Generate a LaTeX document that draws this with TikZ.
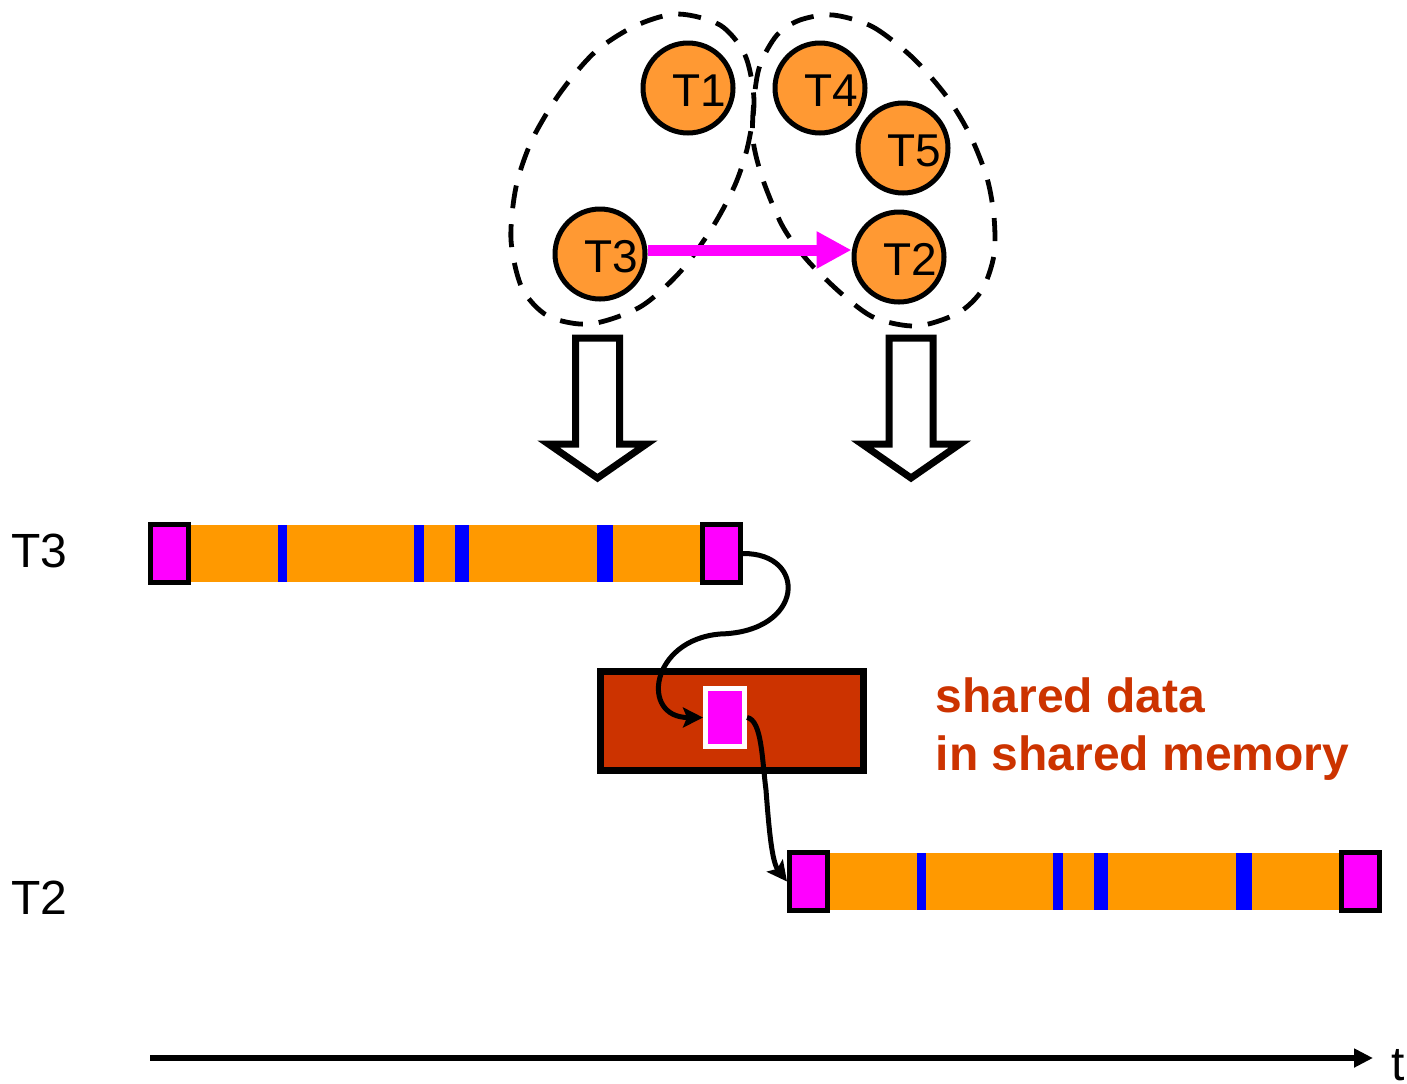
\documentclass[tikz,border=0pt]{standalone}
\usepackage{fontspec}
\setmainfont{Liberation Sans}
\usetikzlibrary{arrows.meta}
\definecolor{threadfill}{HTML}{FF9933}
\definecolor{barorange}{HTML}{FF9900}
\definecolor{stripeblue}{HTML}{0000FF}
\definecolor{memred}{HTML}{CC3300}
\definecolor{hot}{HTML}{FF00FF}
\begin{document}
\begin{tikzpicture}[x=0.5pt,y=-0.5pt,
  thread/.style={circle,draw,line width=2.5pt,fill=threadfill,minimum size=45pt,
    inner sep=0pt,text height=18.5pt,text depth=0pt,font=\fontsize{23}{23}\selectfont},
  endbox/.style={draw,line width=2.5pt,fill=hot,minimum width=19pt,
    minimum height=29pt,inner sep=0pt},
  group/.style={line width=2.4pt,dash pattern=on 11.5pt off 8pt},
  bigarrow/.style={draw,line width=3.5pt,fill=white,miter limit=10},
  flow/.style={line width=2.5pt,-{Stealth[length=10pt,width=10pt,inset=2pt]}},
  lbl/.style={font=\fontsize{24}{24}\selectfont,inner sep=0pt},
  memtext/.style={font=\fontsize{24}{24}\selectfont\bfseries,text=memred,inner sep=0pt},
  timebar/.pic={
    \fill[barorange] (0,-28.5) rectangle (552,28.5);
    \foreach \a/\b in {108.5/117.5,244.5/254.5,285.5/299.5,427.5/443.5}
      \fill[stripeblue] (\a,-28.5) rectangle (\b,28.5);
    \node[endbox] (-first) at (0,0) {};
    \node[endbox] (-last) at (552,0) {};
  },
  downarrow/.pic={
    \path[bigarrow] (-22,0) -- (22,0) -- (22,106) -- (49,106) -- (0,140)
      -- (-49,106) -- (-22,106) -- cycle;
  }
]
\useasboundingbox (0,0) rectangle (1407,1083);

% the two thread groups
\draw[group] plot[smooth cycle] coordinates {
  (677,14) (720,25) (745,55) (754,100) (748,145) (735,185) (712,228)
  (680,272) (640,307) (590,324) (548,316) (522,288) (511,240) (516,187)
  (532,140) (560,93) (595,52) (635,26)};
\draw[group] plot[smooth cycle] coordinates {
  (833,15) (873,27) (913,58) (947,97) (970,135) (987,178) (994,217)
  (994,255) (982,290) (958,313) (917,326) (875,318) (843,295) (808,261)
  (783,227) (763,180) (753,140) (754,100) (760,65) (777,35) (800,20)};

% threads
\node[thread] (t1) at (688,88)  {\hspace*{11pt}T1};
\node[thread] (t4) at (820,88)  {\hspace*{11pt}T4};
\node[thread] (t5) at (903,148) {\hspace*{11pt}T5};
\node[thread] (t3) at (600,254) {\hspace*{11pt}T3};
\node[thread] (t2) at (899,257) {\hspace*{11pt}T2};

\path ([yshift=2pt]t3.east) coordinate (msgstart);
\draw[hot,line width=5.5pt,-{Triangle[length=17.5pt,width=17.5pt]}]
  (msgstart) -- (msgstart -| t2.west);

% mapping onto the time lines
\pic at (597.5,338) {downarrow};
\pic at (911,338) {downarrow};

% time lines of the two threads
\node[lbl,anchor=base west] (lt3) at (11,567) {T3};
\node[lbl,anchor=base west] (lt2) at (11,914) {T2};
\pic (t3bar) at (169.5,553.5) {timebar};
\pic (t2bar) at (808.5,881.5) {timebar};

% shared memory
\node[draw,line width=3.5pt,fill=memred,minimum width=131.5pt,minimum height=49.5pt,
  inner sep=0pt] (shm) at (732,721) {};
\node[draw=white,line width=2.5pt,fill=hot,minimum width=19.5pt,minimum height=29pt,
  inner sep=0pt] (cell) at (725,717.5) {};
\node[memtext,anchor=base west] (mem1) at (935.5,712) {shared data};
\node[memtext,anchor=base west] (mem2) at (935.5,770) {in shared memory};

\coordinate (bend) at (720,634);
\draw[flow] (t3bar-last.east) .. controls (808,553) and (805,632) .. (bend)
  .. controls (650,640) and (640,717.5) .. (cell.west);
\coordinate (drop) at (766,790);
\draw[flow] (cell.east) .. controls (762,720) and (762,760) .. (drop)
  .. controls (769,830) and (772,862) .. (t2bar-first.west);

% time axis
\coordinate (axisstart) at (150,1058);
\coordinate (axisend) at (1373,1058);
\draw[line width=3pt,-{Triangle[length=9.5pt,width=9pt]}] (axisstart) -- (axisend);
\node[lbl,anchor=base] (tlabel) at (1398.5,1080) {t};
\end{tikzpicture}
\end{document}
